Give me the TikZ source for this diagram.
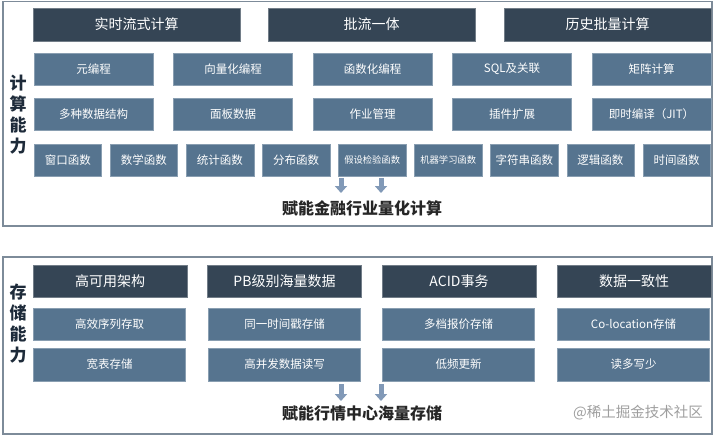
\documentclass[tikz,border=0pt]{standalone}
\usepackage{fontspec}
\usepackage{tikz}
\usetikzlibrary{arrows.meta}
\newfontfamily\cjk{Noto Sans CJK SC}
\definecolor{darkbox}{HTML}{354555}
\definecolor{lightbox}{HTML}{56748F}
\definecolor{framec}{HTML}{7D8B99}
\definecolor{arrowc}{HTML}{8199B7}
\definecolor{labelc}{HTML}{1E2B3A}

\begin{document}
\begin{tikzpicture}[x=1pt, y=-1pt,
  topbox/.style={fill=darkbox, draw=darkbox!70!white, text=white, inner sep=0pt,
    minimum height=33pt, font=\cjk\fontsize{14}{16}\selectfont},
  subbox/.style={fill=lightbox, draw=lightbox!70!white, text=white, inner sep=0pt,
    minimum height=32pt, font=\cjk\fontsize{11.5}{13}\selectfont},
  sidelabel/.style={text=labelc, align=center, inner sep=0pt,
    font=\cjk\bfseries\fontsize{17}{21}\selectfont},
  caption/.style={text=black!85, inner sep=0pt, font=\cjk\bfseries\fontsize{16}{18}\selectfont},
  downarrow/.style={draw=arrowc, line width=5pt, -{Triangle[width=12pt,length=7pt]}}]
\useasboundingbox (0,0) rectangle (720,436);

% frames
\draw[framec, line width=1.5pt] (3,1.5) rectangle (712,226);
\draw[framec, line width=1.5pt] (3,257) rectangle (712,434);

% computing part
\node[sidelabel] (calc) at (18,115) {计\\算\\能\\力};

\node[topbox, minimum width=207pt] (rt) at (136.5,24.5) {实时流式计算};
\node[topbox, minimum width=207pt] (unify) at (371.5,24.5) {批流一体};
\node[topbox, minimum width=207pt] (hist) at (607.5,24.5) {历史批量计算};

\node[subbox, minimum width=119pt] (meta) at (93.5,69) {元编程};
\node[subbox, minimum width=119pt] (vec) at (233,69) {向量化编程};
\node[subbox, minimum width=119pt] (func) at (372.5,69) {函数化编程};
\node[subbox, minimum width=119pt] (sql) at (512,69) {SQL及关联};
\node[subbox, minimum width=119pt] (matrix) at (651.5,69) {矩阵计算};

\node[subbox, minimum width=119pt] (struct) at (93.5,114) {多种数据结构};
\node[subbox, minimum width=119pt] (panel) at (233,114) {面板数据};
\node[subbox, minimum width=119pt] (job) at (372.5,114) {作业管理};
\node[subbox, minimum width=119pt] (plugin) at (512,114) {插件扩展};
\node[subbox, minimum width=119pt] (jit) at (651.5,114) {即时编译（JIT）};

\foreach \name/\txt [count=\i from 0] in {win/窗口函数, math/数学函数, stat/统计函数,
    dist/分布函数, test/{\fontsize{9.3}{11}\selectfont 假设检验函数},
    ml/{\fontsize{9.3}{11}\selectfont 机器学习函数}, str/字符串函数, logic/逻辑函数, time/时间函数}
  \node[subbox, minimum width=67.5pt] (\name) at (67.75+76.1*\i,160) {\txt};

\coordinate (ca1) at (341,178);
\coordinate (ca2) at (381,178);
\coordinate (cb1) at (341,193);
\coordinate (cb2) at (381,193);
\draw[downarrow] (ca1) -- (cb1);
\draw[downarrow] (ca2) -- (cb2);
\node[caption] (calccap) at (362,208) {赋能金融行业量化计算};

% storage part
\node[sidelabel] (store) at (18,323.5) {存\\储\\能\\力};

\node[topbox, minimum width=154pt, minimum height=32pt] (ha) at (110,281) {高可用架构};
\node[topbox, minimum width=154pt, minimum height=32pt] (pb) at (284.5,281) {PB级别海量数据};
\node[topbox, minimum width=154pt, minimum height=32pt] (acid) at (459,281) {ACID事务};
\node[topbox, minimum width=154pt, minimum height=32pt] (cons) at (634,281) {数据一致性};

\node[subbox, minimum width=152pt] (seq) at (109.5,324) {高效序列存取};
\node[subbox, minimum width=152pt] (stamp) at (284.5,324) {同一时间戳存储};
\node[subbox, minimum width=152pt] (quote) at (458.5,324) {多档报价存储};
\node[subbox, minimum width=152pt] (coloc) at (633.5,324) {Co-location存储};

\node[subbox, minimum width=152pt, minimum height=33pt] (wide) at (109.5,364.5) {宽表存储};
\node[subbox, minimum width=152pt, minimum height=33pt] (conc) at (284.5,364.5) {高并发数据读写};
\node[subbox, minimum width=152pt, minimum height=33pt] (low) at (458.5,364.5) {低频更新};
\node[subbox, minimum width=152pt, minimum height=33pt] (read) at (633.5,364.5) {读多写少};

\coordinate (sa1) at (341,384);
\coordinate (sa2) at (381,384);
\coordinate (sb1) at (341,401);
\coordinate (sb2) at (381,401);
\draw[downarrow] (sa1) -- (sb1);
\draw[downarrow] (sa2) -- (sb2);
\node[caption] (storecap) at (362,413) {赋能行情中心海量存储};

\node[text=black!38, inner sep=0pt, font=\cjk\fontsize{14.5}{16}\selectfont] (mark) at (638,413) {@稀土掘金技术社区};
\end{tikzpicture}
\end{document}
